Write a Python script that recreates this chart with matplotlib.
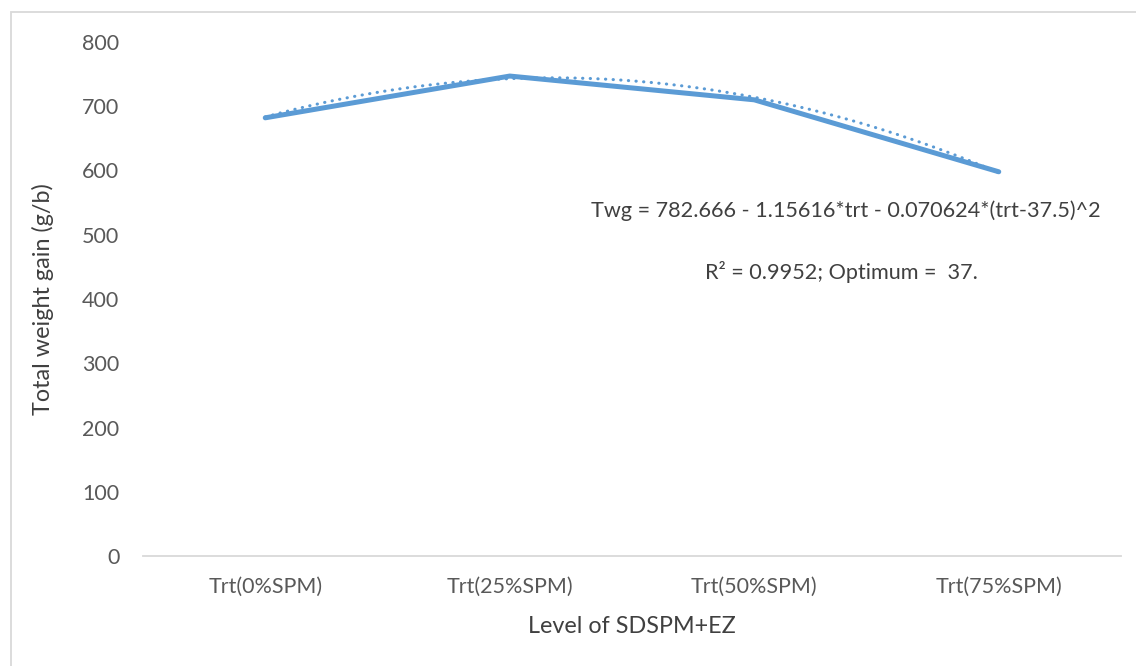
import numpy as np
import matplotlib
matplotlib.use('Agg')
import matplotlib.pyplot as plt
from matplotlib.patches import Rectangle

plt.rcParams['font.family'] = ['Lato', 'DejaVu Sans']

# data
categories = ['Trt(0%SPM)', 'Trt(25%SPM)', 'Trt(50%SPM)', 'Trt(75%SPM)']
twg = [682, 747, 710, 598]
yticks = [0, 100, 200, 300, 400, 500, 600, 700, 800]

BLUE = '#5B9BD5'

fig = plt.figure(figsize=(11.36, 6.66), dpi=100)
ax = fig.add_axes([143/1136, 110/666, (1121-143)/1136, (556-42)/666])

x = np.arange(len(categories))
ax.plot(x, twg, color=BLUE, lw=3.6, solid_capstyle='round', solid_joinstyle='round', zorder=3)

# 2nd order polynomial trendline (as excel does)
coef = np.polyfit(x, twg, 2)
xs = np.linspace(x[0], x[-1], 200)
ax.plot(xs, np.polyval(coef, xs), color=BLUE, lw=2.2, ls=(0, (0.1, 2.4)),
        dash_capstyle='round', zorder=2)

ax.set_xlim(-0.5, 3.5)
ax.set_ylim(0, 800)
ax.set_yticks(yticks)
ax.set_xticks(x)
ax.set_xticklabels(categories)
ax.tick_params(length=0, labelsize=15.5, colors='#595959')
ax.tick_params(axis='y', pad=17)
ax.tick_params(axis='x', pad=15)
for s in ['top', 'right', 'left']:
    ax.spines[s].set_visible(False)
ax.spines['bottom'].set_color('#D9D9D9')
ax.spines['bottom'].set_linewidth(1.3)

ax.set_ylabel('Total weight gain (g/b)', fontsize=16.8, color='#404040', labelpad=20)
ax.set_xlabel('Level of SDSPM+EZ', fontsize=16.8, color='#404040', labelpad=14)

ax.text(0.745, 0.683, 'Twg = 782.666 - 1.15616*trt - 0.070624*(trt-37.5)^2',
        transform=fig.transFigure, ha='center', va='center', fontsize=15.6, color='#404040')
ax.text(0.741, 0.592, 'R² = 0.9952; Optimum =  37.',
        transform=fig.transFigure, ha='center', va='center', fontsize=15.6, color='#404040')

# chart area border
fig.patches.append(Rectangle((11/1136, -0.1), 1.2, (666-12)/666 + 0.1,
                             transform=fig.transFigure, fill=False,
                             edgecolor='#D9D9D9', lw=1.3))

fig.savefig('out.png', dpi=100)
